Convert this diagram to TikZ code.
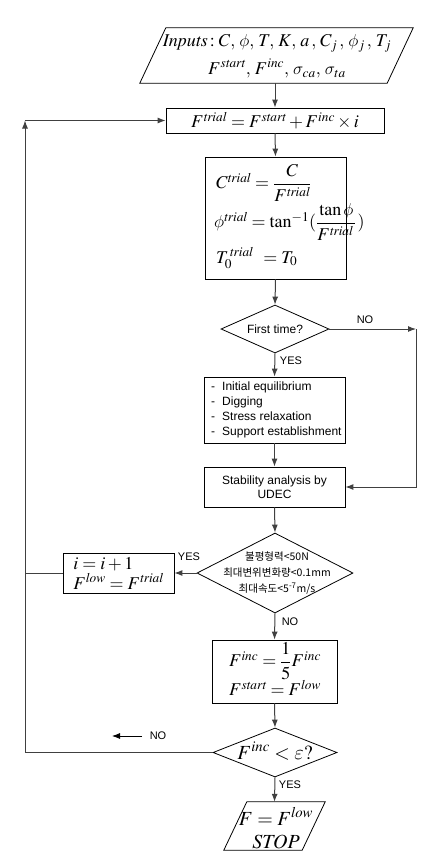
\documentclass[tikz,border=0pt]{standalone}
\usepackage{amsmath}
\usepackage{mathptmx}
\usepackage[no-math]{fontspec}
\setmainfont{Liberation Sans}
\newfontfamily\kr{Noto Sans CJK KR}
\DeclareSymbolFont{cmlet}{OML}{cmm}{m}{it}
\DeclareMathSymbol{\cphi}{\mathord}{cmlet}{"1E}
\DeclareMathSymbol{\csig}{\mathord}{cmlet}{"1B}
\DeclareMathSymbol{\ceps}{\mathord}{cmlet}{"22}
\usetikzlibrary{shapes.geometric,arrows.meta}
\tikzset{
  box/.style={draw=black, line width=0.8pt, inner sep=0pt, fill=white},
  frame/.style={inner sep=0pt},
  edge/.style={draw=black, line width=0.8pt, line join=miter},
  dia/.style={draw=black, line width=0.8pt, diamond, inner sep=0pt},
  arr/.style={draw=black!75, line width=1pt, -{Latex[length=8pt,width=6pt]}},
  ln/.style={draw=black!75, line width=1pt},
  lbl/.style={font=\fontsize{11}{13}\selectfont, inner sep=0pt},
  txt/.style={font=\fontsize{12}{15}\selectfont, inner sep=0pt},
  mth/.style={font=\fontsize{18}{20}\selectfont, inner sep=0pt},
}
\begin{document}
\begin{tikzpicture}[x=1pt,y=-1pt]
\fill[white] (0,0) rectangle (431,859);
\useasboundingbox (0,0) rectangle (431,859);

% input parallelogram
\node[frame, minimum width=273, minimum height=55] (inp) at (276.5,55.5) {};
\draw[edge] (inp.south west) -- ([xshift=26pt]inp.north west) -- (inp.north east) -- ([xshift=-26pt]inp.south east) -- cycle;
\node[mth, align=center, font=\fontsize{18}{28}\selectfont] (inptext) at (277,56)
  {$\mathit{Inputs}\!:C,\mkern2mu \cphi,\mkern2mu T,\mkern2mu K,\mkern2mu a\,,\mkern2mu C_j\,,\mkern2mu \cphi_j\,,\mkern2mu T_j$\\ $F^{\mathit{start}},\, F^{\mathit{inc}},\, \csig_{ca},\, \csig_{ta}$};

\node[box, minimum width=218, minimum height=25, mth] (ftrial) at (275,120.5)
  {$F^{\mathit{trial}} = F^{\mathit{start}} + F^{\mathit{inc}} \times i$};

\node[box, minimum width=141, minimum height=122] (ctrial) at (275.5,218) {};
\node[mth, anchor=west] (c1) at (216,183) {$C^{\mathit{trial}} = \dfrac{C}{F^{\mathit{trial}}}$};
\node[mth, anchor=west] (c2) at (214,222) {$\cphi^{\mathit{trial}} = \tan^{-1}(\dfrac{\tan\cphi}{F^{\mathit{trial}}\,}\mkern1mu)$};
\node[mth, anchor=west] (c3) at (216,258) {$T_0^{\,\mathit{trial}}\;\, = T_0$};

\node[dia, minimum width=108, minimum height=48] (first) at (275,329) {};
\node[txt] (firsttext) at (275,329) {First time?};

\node[box, minimum width=141, minimum height=66] (list) at (274.5,410) {};
\node[txt, align=left, anchor=west] (listtext) at (211,410)
  {\makebox[11pt][l]{-}Initial equilibrium\\ \makebox[11pt][l]{-}Digging\\ \makebox[11pt][l]{-}Stress relaxation\\ \makebox[11pt][l]{-}Support establishment};

\node[box, minimum width=141, minimum height=40, txt, align=center, font=\fontsize{12}{14}\selectfont] (stab) at (274.5,487) {Stability analysis by\\UDEC};

\node[dia, minimum width=156, minimum height=80] (kor) at (275,573) {};
\node[inner sep=0pt, align=center, font=\kr\fontsize{10.5}{15.7}\selectfont] (kortext) at (277,573)
  {불평형력<50N\\최대변위변화량<0.1mm\\최대속도<5\textsuperscript{-7}m/s};

\node[box, minimum width=111, minimum height=40, mth, align=left] (ibox) at (118.5,573)
  {$i = i + 1$\\ $F^{\mathit{low}} = F^{\mathit{trial}}$};

\node[box, minimum width=125, minimum height=63] (finc) at (274.5,671.5) {};
\node[mth] (f1) at (275,661) {$F^{\mathit{inc}} = \dfrac{1}{5} F^{\mathit{inc}}$};
\node[mth] (f2) at (275,688) {$F^{\mathit{start}} = F^{\mathit{low}}$};

\node[dia, minimum width=124, minimum height=49] (eps) at (275,752.5) {};
\node[inner sep=0pt, font=\fontsize{20}{22}\selectfont] (epstext) at (275,751) {$F^{\mathit{inc}} < \ceps ?$};

% stop parallelogram
\node[frame, minimum width=101, minimum height=48] (stop) at (274.5,826) {};
\draw[edge] (stop.south west) -- ([xshift=23pt]stop.north west) -- (stop.north east) -- ([xshift=-23pt]stop.south east) -- cycle;
\node[inner sep=0pt, align=center, font=\fontsize{20}{23}\selectfont] (stoptext) at (276,828)
  {$F = F^{\mathit{low}}$\\ $\mathit{STOP}$};

% coordinates
\coordinate (tl) at (25,120.5);
\coordinate (tr) at (416,329);
\coordinate (noA) at (142,736);
\coordinate (noB) at (112,736);

% connectors
\draw[arr] (ftrial.north |- inp.south) -- (ftrial.north);
\draw[arr] (ftrial.south) -- (ctrial.north);
\draw[arr] (ctrial.south) -- (first.north);
\draw[arr] (first.south) -- (list.north);
\draw[arr] (list.south) -- (stab.north);
\draw[arr] (first.east) -- (tr);
\draw[arr] (tr) |- (stab.east);
\draw[arr] (stab.south) -- (kor.north);
\draw[arr] (kor.west) -- (ibox.east);
\draw[ln] (ibox.west) -- (ibox.west -| tl);
\draw[arr] (kor.south) -- (finc.north);
\draw[arr] (finc.south) -- (eps.north);
\draw[arr] (eps.south) -- (stop.north);
\draw[arr] (eps.west) -| (tl);
\draw[arr] (tl) -- (ftrial.west);
\draw[arr, draw=black, line width=0.8pt] (noA) -- (noB);

% labels
\node[lbl] (no1) at (365,320) {NO};
\node[lbl] (yes1) at (291,361) {YES};
\node[lbl] (yes2) at (189,557) {YES};
\node[lbl] (no2) at (290,622) {NO};
\node[lbl] (no3) at (158,736) {NO};
\node[lbl] (yes3) at (290,785) {YES};
\end{tikzpicture}
\end{document}
